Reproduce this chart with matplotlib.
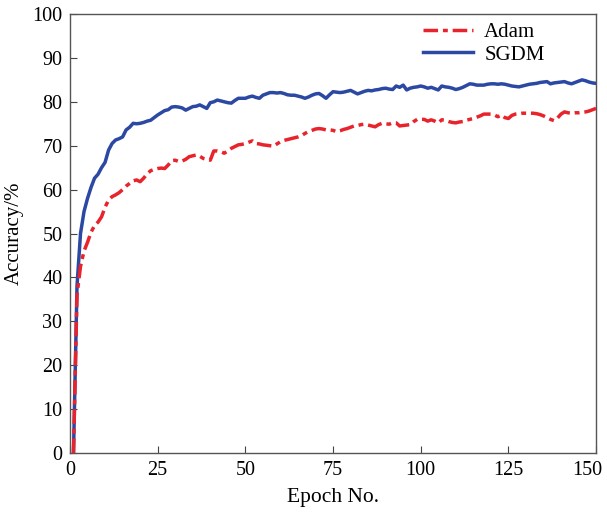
import numpy as np
import matplotlib
matplotlib.use("Agg")
import matplotlib.pyplot as plt
from matplotlib.transforms import ScaledTranslation

# Test accuracy per epoch for the two optimizers
epochs = np.arange(1, 151)

sgdm_acc = [
    0, 38, 50, 55, 58, 60.5, 62.6, 63.5, 65, 66.2,
    69, 70.5, 71.3, 71.6, 72, 73.6, 74.2, 75.1, 75, 75.1,
    75.3, 75.6, 75.8, 76.4, 77, 77.5, 78, 78.2, 78.8, 78.9,
    78.8, 78.6, 78.1, 78.5, 78.9, 79, 79.3, 78.9, 78.5, 79.8,
    80, 80.4, 80.2, 80, 79.8, 79.7, 80.3, 80.8, 80.8, 80.8,
    81.1, 81.3, 81, 80.8, 81.5, 81.8, 82.1, 82.1, 82, 82.1,
    81.9, 81.6, 81.5, 81.5, 81.3, 81.1, 80.8, 81.1, 81.5, 81.8,
    81.9, 81.4, 80.8, 81.6, 82.3, 82.2, 82.1, 82.2, 82.4, 82.6,
    82.2, 81.8, 82.1, 82.4, 82.6, 82.5, 82.7, 82.8, 83, 83.1,
    82.9, 82.8, 83.6, 83.3, 83.8, 82.7, 83.1, 83.3, 83.4, 83.6,
    83.4, 83.1, 83.3, 83, 82.7, 83.6, 83.4, 83.3, 83.1, 82.8,
    83, 83.3, 83.7, 84.1, 84, 83.8, 83.8, 83.8, 84, 84.1,
    84.1, 84, 84.1, 84, 83.8, 83.6, 83.5, 83.4, 83.6, 83.8,
    84, 84.1, 84.2, 84.4, 84.5, 84.6, 84.1, 84.3, 84.4, 84.5,
    84.6, 84.3, 84.1, 84.4, 84.7, 85, 84.8, 84.5, 84.3, 84.2,
]

adam_acc = [
    0, 36, 42.5, 46, 48, 50.3, 51.8, 52.6, 53.8, 56,
    57.6, 58.4, 58.8, 59.3, 60, 60.8, 61.4, 62, 62.2, 61.8,
    62.6, 63.6, 64.3, 64.6, 64.8, 64.9, 64.8, 65.6, 66.6, 66.7,
    66.4, 66.5, 66.9, 67.5, 67.7, 67.9, 67.6, 67.1, 66.9, 66.7,
    68.8, 68.8, 68.6, 68.3, 68.8, 69.4, 69.8, 70.2, 70.3, 70.5,
    70.8, 71.1, 70.5, 70.4, 70.2, 70.1, 70, 69.9, 70.4, 70.9,
    71.2, 71.4, 71.6, 71.8, 72, 72.3, 72.8, 73.2, 73.5, 73.8,
    73.9, 73.8, 73.6, 73.6, 73.5, 73.2, 73.4, 73.7, 73.9, 74.2,
    74.5, 74.6, 74.8, 74.9, 74.7, 74.5, 74.3, 74.8, 75.1, 75,
    74.9, 75.2, 75.2, 74.5, 74.6, 74.7, 74.8, 75.5, 76, 76,
    76, 75.6, 75.9, 75.6, 75.2, 75.9, 75.8, 75.5, 75.3, 75.2,
    75.4, 75.5, 75.8, 76, 76.2, 76.5, 76.8, 77.2, 77.2, 77.2,
    77, 76.6, 77, 76.4, 76.2, 76.9, 77.2, 77.3, 77.4, 77.4,
    77.4, 77.4, 77.3, 77.1, 76.8, 76.4, 76, 75.7, 76.3, 77.2,
    77.7, 77.5, 77.4, 77.5, 77.5, 77.6, 77.7, 77.9, 78.2, 78.5,
]

x_ticks = [0, 25, 50, 75, 100, 125, 150]
y_ticks = list(range(0, 101, 10))

plt.rcParams['font.family'] = ['Liberation Serif', 'DejaVu Serif']

fig = plt.figure(figsize=(6.07, 5.15), dpi=100)
ax = fig.add_axes([0.1153, 0.1204, 0.8667, 0.8524])

ax.plot(epochs, adam_acc, color='#e8232b', linewidth=2.5,
        dashes=(4.2, 1.4, 1.4, 1.4), label='Adam', zorder=3)
ax.plot(epochs, sgdm_acc, color='#2b48a3', linewidth=2.5,
        label='SGDM', zorder=2)

ax.set_xlim(0, 150)
ax.set_ylim(0, 100)
ax.set_xticks(x_ticks)
ax.set_yticks(y_ticks)
ax.tick_params(direction='in', length=5, width=0.8, labelsize=14.5,
               colors='#444444', labelcolor='black', pad=5.5)

# keep the last x label inside the canvas
last = ax.get_xticklabels()[-1]
last.set_transform(last.get_transform() + ScaledTranslation(-6 / 72, 0, fig.dpi_scale_trans))

for side in ax.spines.values():
    side.set_color('#555555')
    side.set_linewidth(1.0)

ax.set_xlabel('Epoch No.', fontsize=15.5, labelpad=6)
ax.set_ylabel('Accuracy/%', fontsize=15, labelpad=6)

ax.legend(loc='upper right', bbox_to_anchor=(0.918, 1.0), borderaxespad=0,
          frameon=False, fontsize=15, handlelength=2.4, handletextpad=0.55,
          labelspacing=0.15)

fig.savefig('out.png', dpi=100)
